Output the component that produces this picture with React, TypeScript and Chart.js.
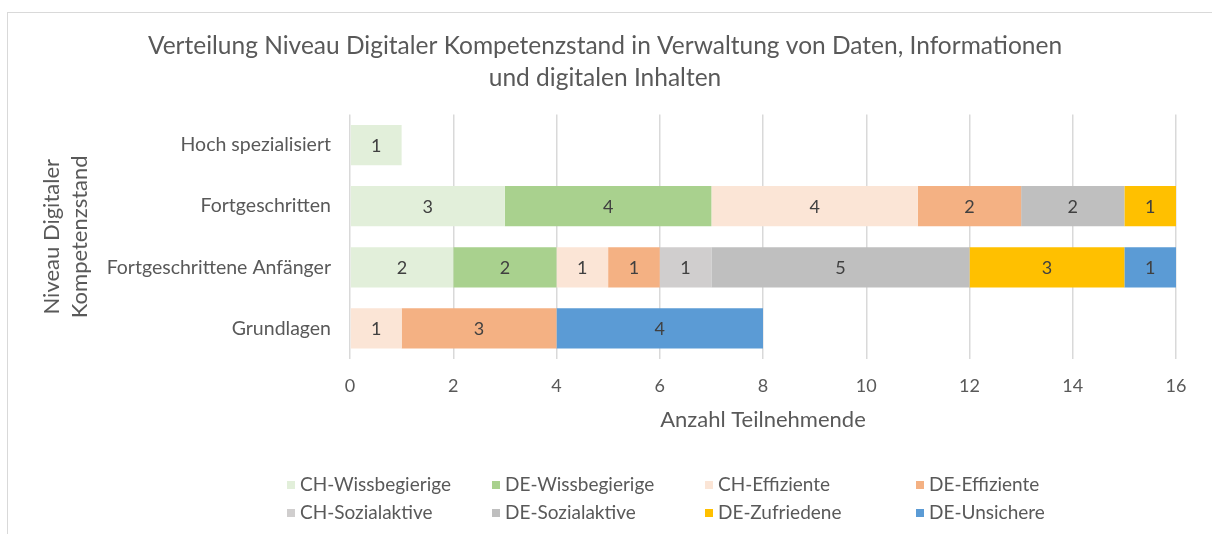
import React, { useEffect, useRef } from "react";
import { Chart, registerables } from "chart.js";

Chart.register(...registerables);

const categories = ["Hoch spezialisiert", "Fortgeschritten", "Fortgeschrittene Anfänger", "Grundlagen"];
const seriesNames = [
  "CH-Wissbegierige",
  "DE-Wissbegierige",
  "CH-Effiziente",
  "DE-Effiziente",
  "CH-Sozialaktive",
  "DE-Sozialaktive",
  "DE-Zufriedene",
  "DE-Unsichere",
];
const chWissbegierige = [1, 3, 2, null];
const deWissbegierige = [null, 4, 2, null];
const chEffiziente = [null, 4, 1, 1];
const deEffiziente = [null, 2, 1, 3];
const chSozialaktive = [null, null, 1, null];
const deSozialaktive = [null, 2, 5, null];
const deZufriedene = [null, 1, 3, null];
const deUnsichere = [null, null, 1, 4];
const seriesColors = ["#E2EFDA", "#A9D18E", "#FBE5D6", "#F4B183", "#D0CECE", "#BFBFBF", "#FFC000", "#5B9BD5"];
const xTicks = [0, 2, 4, 6, 8, 10, 12, 14, 16];

const titleLines = ["Verteilung Niveau Digitaler Kompetenzstand in Verwaltung von Daten, Informationen", "und digitalen Inhalten"];
const xTitle = "Anzahl Teilnehmende";
const yTitle = ["Niveau Digitaler", "Kompetenzstand"];

const FONT = "Lato, 'Open Sans', sans-serif";

export default function App() {
  const ref = useRef<HTMLCanvasElement | null>(null);

  useEffect(() => {
    if (!ref.current) return;
    const seriesValues = [chWissbegierige, deWissbegierige, chEffiziente, deEffiziente, chSozialaktive, deSozialaktive, deZufriedene, deUnsichere];

    const framePlugin = {
      id: "frame",
      beforeDraw(chart: any) {
        const ctx = chart.ctx;
        ctx.save();
        ctx.fillStyle = "#ffffff";
        ctx.fillRect(0, 0, chart.width, chart.height);
        ctx.strokeStyle = "#d9d9d9";
        ctx.lineWidth = 1;
        ctx.strokeRect(7.5, 12.5, chart.width + 20, chart.height + 20);
        ctx.restore();
      },
    };

    const labelPlugin = {
      id: "barLabels",
      afterDatasetsDraw(chart: any) {
        const ctx = chart.ctx;
        ctx.save();
        ctx.font = `18px ${FONT}`;
        ctx.fillStyle = "#404040";
        ctx.textAlign = "center";
        ctx.textBaseline = "middle";
        chart.data.datasets.forEach((ds: any, di: number) => {
          const meta = chart.getDatasetMeta(di);
          meta.data.forEach((el: any, i: number) => {
            const v = ds.data[i];
            if (v === null || v === undefined) return;
            const p = el.getProps(["x", "y", "base"], true);
            ctx.fillText(String(v), (p.x + p.base) / 2, p.y + 1);
          });
        });
        ctx.restore();
      },
    };

    const legendCols = [287, 492, 705, 916];
    const legendRows = [485, 513];
    const legendPlugin = {
      id: "customLegend",
      afterDraw(chart: any) {
        const ctx = chart.ctx;
        ctx.save();
        ctx.font = `19px ${FONT}`;
        ctx.textBaseline = "middle";
        ctx.textAlign = "left";
        chart.data.datasets.forEach((ds: any, i: number) => {
          const col = i % 4;
          const row = Math.floor(i / 4);
          const x = legendCols[col];
          const y = legendRows[row];
          ctx.fillStyle = ds.backgroundColor;
          ctx.fillRect(x, y - 4, 8, 8);
          ctx.fillStyle = "#595959";
          ctx.fillText(ds.label, x + 13, y);
        });
        ctx.restore();
      },
    };

    const chart = new Chart(ref.current, {
      type: "bar",
      data: {
        labels: categories,
        datasets: seriesNames.map((name, i) => ({
          label: name,
          data: seriesValues[i],
          backgroundColor: seriesColors[i],
          borderWidth: 0,
          categoryPercentage: 1,
          barPercentage: 0.66,
        })),
      },
      options: {
        indexAxis: "y",
        responsive: false,
        animation: false,
        layout: { padding: { left: 34, right: 36, top: 0, bottom: 99.6 } },
        plugins: {
          legend: { display: false },
          tooltip: { enabled: false },
          title: {
            display: true,
            text: titleLines,
            color: "#595959",
            font: { family: FONT, size: 24.5, weight: "normal", lineHeight: "31.5px" },
            padding: { top: 30.5, bottom: 21 },
          },
        },
        scales: {
          x: {
            stacked: true,
            min: 0,
            max: 16,
            afterBuildTicks: (scale: any) => {
              scale.ticks = xTicks.map((v) => ({ value: v }));
            },
            afterFit: (scale: any) => {
              scale.height = 75.4;
            },
            grid: { color: "#d9d9d9", lineWidth: 1.5, drawTicks: false },
            border: { display: false },
            ticks: { color: "#595959", font: { family: FONT, size: 18, lineHeight: 1.2 }, padding: 16.5 },
            title: {
              display: true,
              text: xTitle,
              color: "#595959",
              font: { family: FONT, size: 22, lineHeight: 1.2 },
              padding: { top: 0, bottom: 1 },
            },
          },
          y: {
            stacked: true,
            afterFit: (scale: any) => {
              scale.width = 316;
            },
            grid: { display: false, drawTicks: false },
            border: { display: false },
            ticks: { color: "#595959", font: { family: FONT, size: 19.5 }, padding: 19 },
            title: {
              display: true,
              text: yTitle,
              color: "#595959",
              font: { family: FONT, size: 22, lineHeight: "28px" },
              padding: { top: 4, bottom: 4 },
            },
          },
        },
      },
      plugins: [framePlugin, labelPlugin, legendPlugin],
    } as any);

    return () => chart.destroy();
  }, []);

  return (
    <div style={{ position: "absolute", left: 0, top: 0, width: 1212, height: 534 }}>
      <canvas ref={ref} width={1212} height={534} style={{ display: "block", width: 1212, height: 534 }} />
    </div>
  );
}
